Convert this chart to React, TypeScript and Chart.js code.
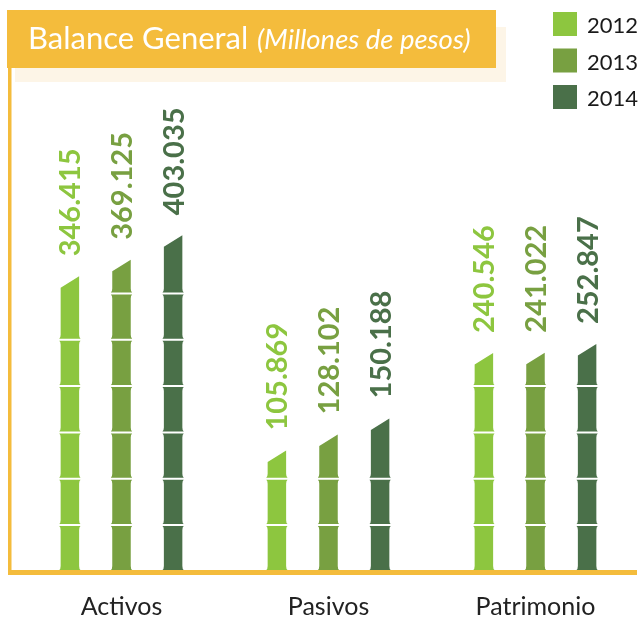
import React, { useEffect, useRef } from "react";
import { Chart, registerables } from "chart.js";

Chart.register(...registerables);

const categories = ["Activos", "Pasivos", "Patrimonio"];
const years = ["2012", "2013", "2014"];
const values2012 = [346.415, 105.869, 240.546];
const values2013 = [369.125, 128.102, 241.022];
const values2014 = [403.035, 150.188, 252.847];
const seriesColors = ["#8DC63F", "#78A041", "#4A7049"];
const titleMain = "Balance General";
const titleSub = "(Millones de pesos)";

const ORANGE = "#F4BC3C";
const CREAM = "#FDF5E7";

function fmt(v: number) {
  return v.toFixed(3);
}

function drawBamboo(ctx: CanvasRenderingContext2D, cx: number, yTop: number, yBase: number, hw: number, color: string) {
  const slant = 11.5;
  const yL = yTop + slant;
  const joints: number[] = [];
  for (let j = yBase - 45; j > yL + 12; j -= 46.3) joints.push(j);
  const bounds = [yBase, ...joints];
  const f = 1.4;
  ctx.fillStyle = color;
  for (let i = 0; i < bounds.length; i++) {
    const bot = i === 0 ? bounds[i] : bounds[i] - 1;
    const isTop = i === bounds.length - 1;
    ctx.beginPath();
    if (!isTop) {
      const top = bounds[i + 1] + 1;
      ctx.moveTo(cx - hw - f, bot);
      ctx.quadraticCurveTo(cx - hw, bot - 1, cx - hw, bot - 4);
      ctx.lineTo(cx - hw, top + 4);
      ctx.quadraticCurveTo(cx - hw, top + 1, cx - hw - f, top);
      ctx.lineTo(cx + hw + f, top);
      ctx.quadraticCurveTo(cx + hw, top + 1, cx + hw, top + 4);
      ctx.lineTo(cx + hw, bot - 4);
      ctx.quadraticCurveTo(cx + hw, bot - 1, cx + hw + f, bot);
      ctx.closePath();
    } else {
      ctx.moveTo(cx - hw - f, bot);
      ctx.quadraticCurveTo(cx - hw, bot - 1, cx - hw, bot - 4);
      ctx.lineTo(cx - hw, yL);
      ctx.lineTo(cx + hw, yTop);
      ctx.lineTo(cx + hw, bot - 4);
      ctx.quadraticCurveTo(cx + hw, bot - 1, cx + hw + f, bot);
      ctx.closePath();
    }
    ctx.fill();
  }
}

const bambooPlugin = {
  id: "bamboo",
  beforeDraw(chart: any) {
    const ctx: CanvasRenderingContext2D = chart.ctx;
    ctx.save();
    ctx.fillStyle = "#ffffff";
    ctx.fillRect(0, 0, chart.width, chart.height);
    // title shadow + box
    ctx.fillStyle = CREAM;
    ctx.fillRect(15, 27, 491, 55);
    ctx.fillStyle = ORANGE;
    ctx.fillRect(7, 10, 489, 58);
    ctx.fillStyle = "#ffffff";
    ctx.textBaseline = "alphabetic";
    ctx.textAlign = "left";
    ctx.font = "31px Lato";
    ctx.fillText(titleMain, 28, 49);
    ctx.font = "italic 27.5px Lato";
    ctx.fillText(titleSub, 257, 49);
    // axis lines
    ctx.fillStyle = ORANGE;
    ctx.fillRect(8, 68, 3.5, 507);
    ctx.fillRect(8, 570, 629, 5);
    ctx.restore();
  },
  beforeDatasetDraw(chart: any, args: any) {
    const ctx: CanvasRenderingContext2D = chart.ctx;
    const meta = args.meta;
    const color = chart.data.datasets[args.index].backgroundColor;
    ctx.save();
    meta.data.forEach((el: any) => {
      drawBamboo(ctx, el.x, el.y, el.base, el.width / 2, color);
    });
    ctx.restore();
    return false;
  },
  afterDatasetsDraw(chart: any) {
    const ctx: CanvasRenderingContext2D = chart.ctx;
    ctx.save();
    // value labels
    chart.data.datasets.forEach((ds: any, di: number) => {
      const meta = chart.getDatasetMeta(di);
      meta.data.forEach((el: any, i: number) => {
        ctx.save();
        ctx.translate(el.x, el.y - 20);
        ctx.rotate(-Math.PI / 2);
        ctx.font = "bold 29px Lato";
        ctx.fillStyle = ds.backgroundColor;
        ctx.textAlign = "left";
        ctx.textBaseline = "alphabetic";
        ctx.fillText(fmt(ds.data[i]), 0, 10.5);
        ctx.restore();
      });
    });
    // category labels
    const xs = chart.scales.x;
    ctx.font = "25px Lato";
    ctx.fillStyle = "#222222";
    ctx.textAlign = "center";
    ctx.textBaseline = "alphabetic";
    chart.data.labels.forEach((lab: string, i: number) => {
      ctx.fillText(lab, xs.getPixelForValue(i), 615);
    });
    // legend
    ctx.textAlign = "left";
    ctx.font = "22px Lato";
    chart.data.datasets.forEach((ds: any, di: number) => {
      const y = 12 + di * 36.5;
      ctx.fillStyle = ds.backgroundColor;
      ctx.fillRect(553, y, 24, 24);
      ctx.fillStyle = "#1a1a1a";
      ctx.fillText(ds.label, 587, y + 21);
    });
    ctx.restore();
  },
};

export default function App() {
  const ref = useRef<HTMLCanvasElement | null>(null);
  useEffect(() => {
    if (!ref.current) return;
    const seriesValues = [values2012, values2013, values2014];
    const chart = new Chart(ref.current, {
      type: "bar",
      data: {
        labels: categories,
        datasets: years.map((y, i) => ({
          label: y,
          data: seriesValues[i],
          backgroundColor: seriesColors[i],
          base: -59,
          categoryPercentage: 0.748,
          barPercentage: 0.358,
        })),
      },
      options: {
        responsive: false,
        animation: false,
        devicePixelRatio: 1,
        layout: { padding: { top: 165, bottom: 53, left: 18, right: 2 } },
        plugins: {
          legend: { display: false },
          title: { display: false },
          tooltip: { enabled: false },
        },
        scales: {
          x: { display: false, offset: true },
          y: { display: false, min: -59, max: 500 },
        },
      },
      plugins: [bambooPlugin],
    } as any);
    return () => chart.destroy();
  }, []);
  return (
    <div style={{ position: "absolute", left: 0, top: 0, width: 641, height: 623 }}>
      <canvas ref={ref} width={641} height={623} style={{ display: "block" }} />
    </div>
  );
}
